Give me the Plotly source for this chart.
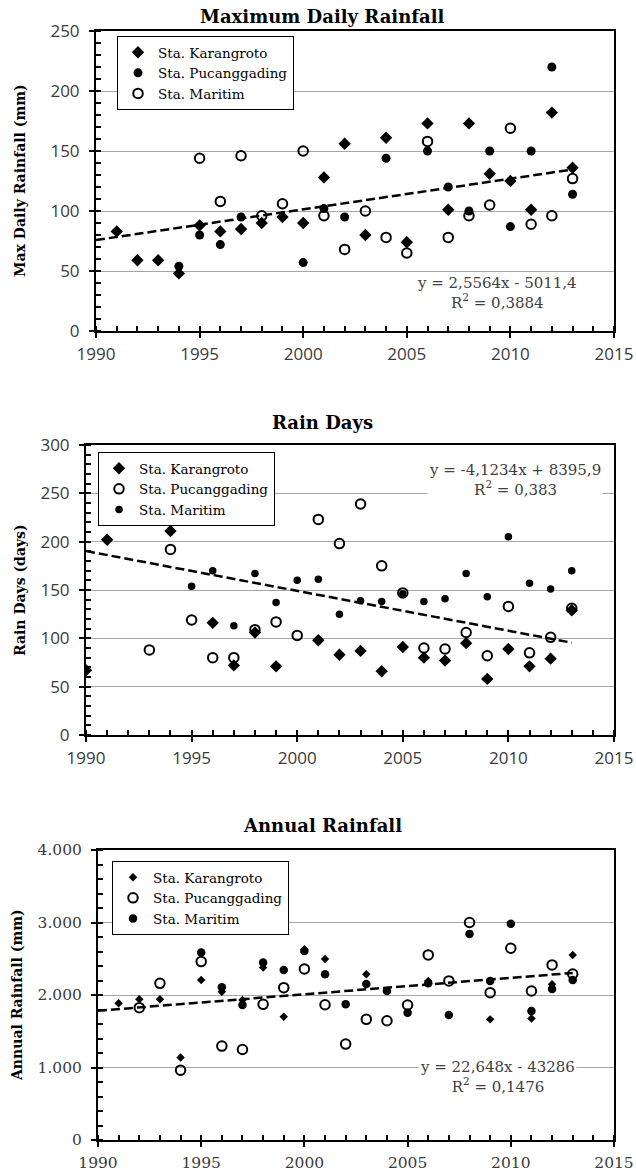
import plotly.graph_objects as go

W, H = 636, 1176

# ---------------- data ----------------
# Panel 1: Maximum Daily Rainfall (mm)
p1_kar_years = list(range(1991, 2014))
p1_kar_vals = [83, 59, 59, 48, 88, 83, 85, 90, 95, 90, 128, 156, 80, 161, 74, 173, 101, 173, 131, 125, 101, 182, 136]
p1_puc_years = [1994, 1995, 1996, 1997, 2000, 2001, 2002, 2004, 2006, 2007, 2008, 2009, 2010, 2011, 2012, 2013]
p1_puc_vals = [54, 80, 72, 95, 57, 102, 95, 144, 150, 120, 100, 150, 87, 150, 220, 114]
p1_mar_years = list(range(1995, 2014))
p1_mar_vals = [144, 108, 146, 96, 106, 150, 96, 68, 100, 78, 65, 158, 78, 96, 105, 169, 89, 96, 127]
p1_trend_x = [1990, 2013]
p1_trend_y = [75.8, 134.6]
p1_eq = "y = 2,5564x - 5011,4<br>R<sup>2</sup> = 0,3884"

# Panel 2: Rain Days (days)
p2_kar_years = [1990, 1991, 1994, 1996, 1997, 1998, 1999, 2001, 2002, 2003, 2004, 2005, 2006, 2007, 2008, 2009, 2010, 2011, 2012, 2013]
p2_kar_vals = [67, 202, 211, 116, 72, 106, 71, 98, 83, 87, 66, 91, 80, 77, 95, 58, 89, 71, 79, 129]
p2_puc_years = list(range(1993, 2014))
p2_puc_vals = [88, 192, 119, 80, 80, 109, 117, 103, 223, 198, 239, 175, 147, 90, 89, 106, 82, 133, 85, 101, 131]
p2_mar_years = list(range(1995, 2014))
p2_mar_vals = [154, 170, 113, 167, 137, 160, 161, 125, 139, 138, 146, 138, 141, 167, 143, 205, 157, 151, 170]
p2_trend_x = [1990, 2013]
p2_trend_y = [190.3, 95.5]
p2_eq = "y = -4,1234x + 8395,9<br>R<sup>2</sup> = 0,383"

# Panel 3: Annual Rainfall (mm)
p3_kar_years = [1991, 1992, 1993, 1994, 1995, 1996, 1997, 1998, 1999, 2000, 2001, 2003, 2006, 2009, 2011, 2012, 2013]
p3_kar_vals = [1885, 1940, 1940, 1138, 2207, 2046, 1931, 2378, 1700, 2631, 2498, 2286, 2194, 1664, 1677, 2147, 2553]
p3_puc_years = list(range(1992, 2014))
p3_puc_vals = [1825, 2161, 963, 2461, 1295, 1249, 1871, 2101, 2359, 1866, 1323, 1664, 1645, 1862, 2553, 2194, 3000, 2032, 2645, 2055, 2415, 2290]
p3_mar_years = list(range(1995, 2014))
p3_mar_vals = [2585, 2106, 1862, 2447, 2346, 2608, 2286, 1871, 2152, 2055, 1756, 2161, 1724, 2843, 2194, 2982, 1779, 2083, 2207]
p3_trend_x = [1990, 2013]
p3_trend_y = [1783.5, 2304.4]
p3_eq = "y = 22,648x - 43286<br>R<sup>2</sup> = 0,1476"

x_ticks = [1990, 1995, 2000, 2005, 2010, 2015]
p1_yticks = [0, 50, 100, 150, 200, 250]
p2_yticks = [0, 50, 100, 150, 200, 250, 300]
p3_yticks = [0, 1000, 2000, 3000, 4000]
p3_yticklabels = ["0", "1.000", "2.000", "3.000", "4.000"]

titles = ["Maximum Daily Rainfall", "Rain Days", "Annual Rainfall"]
ytitles = ["Max Daily Rainfall (mm)", "Rain Days (days)", "Annual Rainfall (mm)"]
p1_names = ["Sta. Karangroto", "Sta. Pucanggading", "Sta. Maritim"]
p2_names = ["Sta. Karangroto", "Sta. Pucanggading", "Sta. Maritim"]
p3_names = ["Sta. Karangroto", "Sta. Pucanggading", "Sta. Maritim"]

# ---------------- layout helpers (pixel geometry) ----------------
SERIF = "DejaVu Serif"
SANS = "Open Sans"
TICKCOL = "#3a3a3a"


def px_x(px):
    return px / W


def px_y(py):
    return 1 - py / H


panels = [
    dict(x0=96, x1=614, y0=31, y1=331, yrange=[0, 250], ydt=10, yticks=p1_yticks, ylabels=[str(v) for v in p1_yticks], tfont=SANS),
    dict(x0=86, x1=614, y0=445, y1=735, yrange=[0, 300], ydt=10, yticks=p2_yticks, ylabels=[str(v) for v in p2_yticks], tfont=SANS),
    dict(x0=98, x1=614, y0=850, y1=1140, yrange=[0, 4000], ydt=200, yticks=p3_yticks, ylabels=p3_yticklabels, tfont=SERIF),
]

fig = go.Figure()

marker_specs = [
    [dict(symbol="diamond", size=9.5, color="black"),
     dict(symbol="circle", size=9, color="black"),
     dict(symbol="circle-open", size=9.5, color="black", line=dict(width=2, color="black"))],
    [dict(symbol="diamond", size=9.5, color="black"),
     dict(symbol="circle-open", size=9.5, color="black", line=dict(width=2, color="black")),
     dict(symbol="circle", size=7.5, color="black")],
    [dict(symbol="diamond", size=6.5, color="black"),
     dict(symbol="circle-open", size=9.5, color="black", line=dict(width=2, color="black")),
     dict(symbol="circle", size=8.5, color="black")],
]

series = [
    [(p1_kar_years, p1_kar_vals), (p1_puc_years, p1_puc_vals), (p1_mar_years, p1_mar_vals)],
    [(p2_kar_years, p2_kar_vals), (p2_puc_years, p2_puc_vals), (p2_mar_years, p2_mar_vals)],
    [(p3_kar_years, p3_kar_vals), (p3_puc_years, p3_puc_vals), (p3_mar_years, p3_mar_vals)],
]
names = [p1_names, p2_names, p3_names]
trends = [(p1_trend_x, p1_trend_y), (p2_trend_x, p2_trend_y), (p3_trend_x, p3_trend_y)]
eqs = [p1_eq, p2_eq, p3_eq]
eq_pos = [(497, 293), (515, 480), (497, 1077)]
legend_pos = [(117, 36), (98, 452), (112, 861)]
title_pos = [(322, 16), (322, 422), (322, 825)]
ytitle_x = [20, 20, 17]

annotations = []
for i, p in enumerate(panels):
    k = i + 1
    xa = "x" if k == 1 else f"x{k}"
    ya = "y" if k == 1 else f"y{k}"
    lg = "legend" if k == 1 else f"legend{k}"
    for j in range(3):
        xs, ys = series[i][j]
        fig.add_trace(go.Scatter(x=xs, y=ys, mode="markers", name=names[i][j],
                                 marker=marker_specs[i][j], xaxis=xa, yaxis=ya, legend=lg))
    tx, ty = trends[i]
    fig.add_trace(go.Scatter(x=tx, y=ty, mode="lines", showlegend=False, hoverinfo="skip",
                             line=dict(color="black", width=2.5, dash="9px,4px"),
                             xaxis=xa, yaxis=ya))

    tsize = 17 if p["tfont"] == SANS else 15.5
    axis_common = dict(showline=True, linecolor="black", linewidth=2, mirror=True,
                       ticks="outside", ticklen=5, tickwidth=2, tickcolor="black",
                       tickfont=dict(family=p["tfont"], size=tsize, color=TICKCOL),
                       zeroline=False, fixedrange=True, automargin=False)
    # overlay axes only draw the inner half of the major ticks (crossing ticks)
    kx, ky = 3 + k, 3 + k
    fig.update_layout(**{
        ("xaxis" if k == 1 else f"xaxis{k}"): dict(
            domain=[px_x(p["x0"]), px_x(p["x1"])], anchor=ya, range=[1990, 2015],
            tickvals=x_ticks, ticktext=[str(v) for v in x_ticks], showgrid=False,
            ticklabelstandoff=2,
            minor=dict(ticks="inside", dtick=1, tick0=1990, ticklen=5, tickwidth=2, tickcolor="black", showgrid=False),
            **axis_common),
        ("yaxis" if k == 1 else f"yaxis{k}"): dict(
            domain=[px_y(p["y1"]), px_y(p["y0"])], anchor=xa, range=p["yrange"],
            tickvals=p["yticks"], ticktext=p["ylabels"], showgrid=True, gridcolor="#a6a6a6", gridwidth=1,
            ticklabelstandoff=6,
            minor=dict(ticks="inside", dtick=p["ydt"], tick0=0, ticklen=5, tickwidth=2, tickcolor="black", showgrid=False),
            **axis_common),
        f"xaxis{kx}": dict(overlaying=xa, anchor=ya, side="bottom", range=[1990, 2015], tickvals=x_ticks,
                           ticks="inside", ticklen=5, tickwidth=2, tickcolor="black", showticklabels=False,
                           showline=False, showgrid=False, zeroline=False, fixedrange=True, automargin=False),
        f"yaxis{ky}": dict(overlaying=ya, anchor=xa, side="left", range=p["yrange"], tickvals=p["yticks"],
                           ticks="inside", ticklen=5, tickwidth=2, tickcolor="black", showticklabels=False,
                           showline=False, showgrid=False, zeroline=False, fixedrange=True, automargin=False),
        lg: dict(x=px_x(legend_pos[i][0]), y=px_y(legend_pos[i][1]), xanchor="left", yanchor="top",
                 bgcolor="white", bordercolor="black", borderwidth=1,
                 font=dict(family=SERIF, size=13.5, color="black"), itemwidth=30,
                 tracegroupgap=0),
    })
    # invisible anchor trace so the overlay subplot exists
    fig.add_trace(go.Scatter(x=[], y=[], xaxis=f"x{kx}", yaxis=f"y{ky}", showlegend=False, hoverinfo="skip"))

    annotations.append(dict(text=eqs[i], x=px_x(eq_pos[i][0]), y=px_y(eq_pos[i][1]), xref="paper", yref="paper",
                            showarrow=False, bgcolor="white", font=dict(family=SERIF, size=15, color="#404040"),
                            xanchor="center", yanchor="middle"))
    annotations.append(dict(text=f"<b>{titles[i]}</b>", x=px_x(title_pos[i][0]), y=px_y(title_pos[i][1]),
                            xref="paper", yref="paper", showarrow=False,
                            font=dict(family=SERIF, size=18, color="black"), xanchor="center", yanchor="middle"))
    annotations.append(dict(text=f"<b>{ytitles[i]}</b>", x=px_x(ytitle_x[i]), y=px_y((p["y0"] + p["y1"]) / 2),
                            xref="paper", yref="paper", showarrow=False, textangle=-90,
                            font=dict(family=SERIF, size=14, color="black"), xanchor="center", yanchor="middle"))

fig.update_layout(width=W, height=H, margin=dict(l=0, r=0, t=0, b=0, autoexpand=False),
                  paper_bgcolor="white", plot_bgcolor="white", annotations=annotations,
                  showlegend=True)

fig.write_html("out.html", config={"displayModeBar": False},
               post_script="document.body.style.margin='0';")
